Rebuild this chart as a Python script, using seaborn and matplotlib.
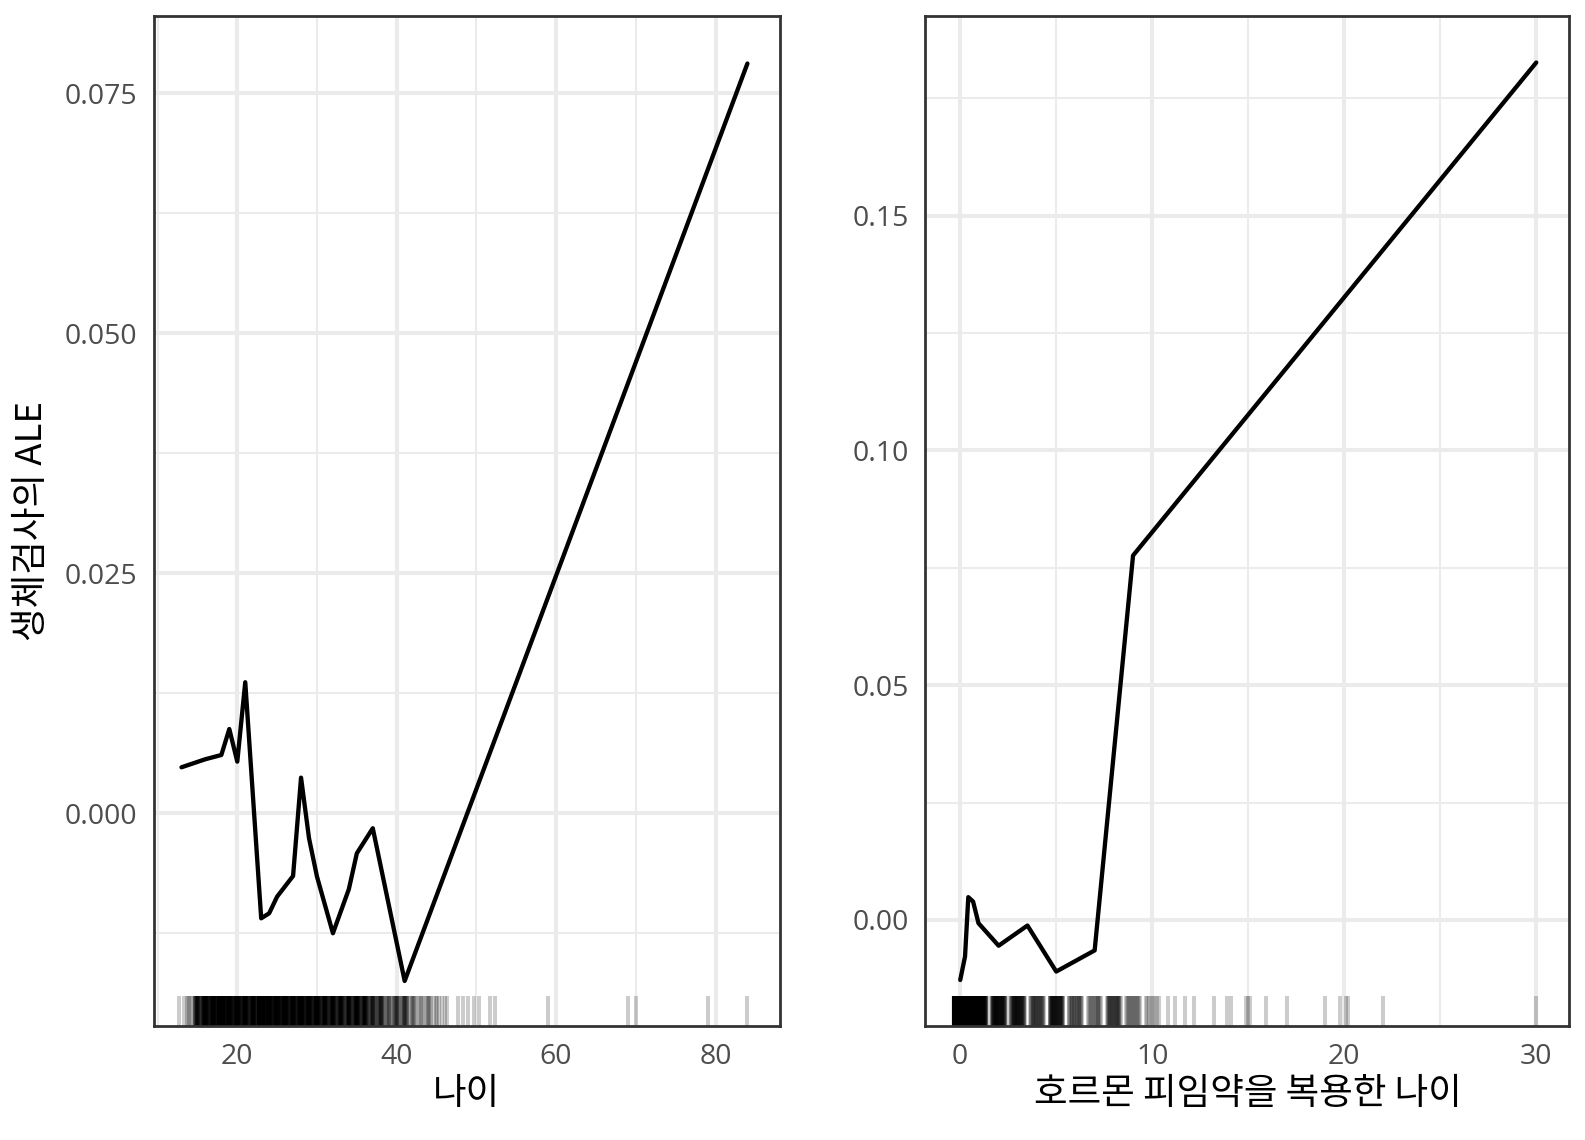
import numpy as np
import matplotlib
matplotlib.use('Agg')
import matplotlib.pyplot as plt
import seaborn as sns

# ALE curve for age (left panel)
age_grid = [13, 16, 18, 19, 20, 21, 23, 24, 25, 27, 28, 29, 30, 32, 34, 35, 37, 41, 84]
age_ale = [0.00479, 0.00563, 0.00607, 0.00878, 0.00538, 0.01365, -0.01094, -0.01042,
           -0.00868, -0.00653, 0.00371, -0.0026, -0.0066, -0.0125, -0.0079, -0.00417,
           -0.00156, -0.01747, 0.0781]

# observed ages for the rug: value and how many women
age_values = list(range(13, 47)) + [48, 49, 50, 52, 59, 69, 70, 79, 84]
age_counts = [2, 5, 21, 35, 35, 50, 37, 37, 33, 30, 54, 39, 39, 38, 33, 37, 33, 35, 28, 28,
              26, 24, 29, 24, 17, 16, 9, 12, 13, 7, 5, 6, 4, 3,
              2, 1, 2, 2, 1, 1, 1, 1, 1]

# ALE curve for years on hormonal contraceptives (right panel)
hc_grid = [0, 0.25, 0.42, 0.67, 0.95, 2, 3.5, 5, 7, 9, 30]
hc_ale = [-0.0128, -0.0078, 0.00484, 0.0039, -0.0007, -0.0055, -0.0012, -0.0110,
          -0.0065, 0.0776, 0.1826]

hc_values = [0, 0.08, 0.17, 0.25, 0.33, 0.42, 0.5, 0.58, 0.67, 0.75, 0.83, 1, 1.5, 2, 2.5,
             3, 4, 5, 6, 7, 8, 9, 10, 10.8, 11.2, 11.7, 12.2, 13.2, 13.9, 14.1, 14.9, 15,
             15.1, 15.9, 17, 19, 19.8, 20.1, 20.2, 22, 30]
hc_counts = [270, 8, 8, 40, 8, 5, 40, 5, 8, 10, 5, 70, 4, 45, 3,
             40, 25, 40, 20, 15, 25, 15, 8, 1, 1, 1, 1, 1, 1, 1, 1, 1,
             1, 1, 1, 1, 1, 1, 1, 1, 1]


def jittered(values, counts, width=0.35):
    # spread repeated values a little, like ggplot's jittered rug
    out = []
    for v, n in zip(values, counts):
        if n > 1:
            out.extend(v + np.linspace(-width, width, n))
        else:
            out.append(v)
    return np.array(out)


sns.set_style('white')
plt.rcParams['font.family'] = ['Noto Sans CJK KR', 'DejaVu Sans']

fig = plt.figure(figsize=(15.85, 11.4), dpi=100)
ax1 = fig.add_axes([0.09685, 0.1, 0.39527, 0.88553])
ax2 = fig.add_axes([0.5839, 0.1, 0.40631, 0.88553])

tick_font = ['Open Sans', 'DejaVu Sans']


def style(ax):
    ax.set_facecolor('white')
    for s in ax.spines.values():
        s.set_visible(True)
        s.set_color('#333333')
        s.set_linewidth(2)
    ax.grid(which='major', color='#EBEBEB', linewidth=2.9)
    ax.grid(which='minor', color='#EBEBEB', linewidth=1.5)
    ax.set_axisbelow(True)
    ax.tick_params(which='major', length=7, width=2, color='#333333',
                   labelsize=20.5, labelcolor='#4D4D4D', pad=5)
    ax.tick_params(which='minor', length=0)
    for lab in ax.get_xticklabels() + ax.get_yticklabels():
        lab.set_family(tick_font)


# left panel
sns.lineplot(x=age_grid, y=age_ale, ax=ax1, color='black', linewidth=3.1)
sns.rugplot(x=jittered(age_values, age_counts), ax=ax1, height=0.03, color='black',
            alpha=0.2, linewidth=2.9, expand_margins=False)
ax1.set_xlim(9.49, 88.09)
ax1.set_ylim(-0.02216, 0.0830)
ax1.set_xticks([20, 40, 60, 80])
ax1.set_xticks([10, 30, 50, 70], minor=True)
ax1.set_yticks([0, 0.025, 0.05, 0.075])
ax1.set_yticklabels(['0.000', '0.025', '0.050', '0.075'])
ax1.set_yticks([-0.0125, 0.0125, 0.0375, 0.0625], minor=True)
style(ax1)
ax1.set_xlabel('나이', fontsize=26.3, color='black', labelpad=4)
ax1.set_ylabel('생체검사의 ALE', fontsize=26.3, color='black', labelpad=10)

# right panel
sns.lineplot(x=hc_grid, y=hc_ale, ax=ax2, color='black', linewidth=3.1)
sns.rugplot(x=jittered(hc_values, hc_counts), ax=ax2, height=0.03, color='black',
            alpha=0.2, linewidth=2.9, expand_margins=False)
ax2.set_xlim(-1.81, 31.73)
ax2.set_ylim(-0.0226, 0.1924)
ax2.set_xticks([0, 10, 20, 30])
ax2.set_xticks([5, 15, 25], minor=True)
ax2.set_yticks([0, 0.05, 0.10, 0.15])
ax2.set_yticklabels(['0.00', '0.05', '0.10', '0.15'])
ax2.set_yticks([0.025, 0.075, 0.125, 0.175], minor=True)
style(ax2)
ax2.set_xlabel('호르몬 피임약을 복용한 나이', fontsize=26.3, color='black', labelpad=4)
ax2.set_ylabel('')

fig.savefig('out.png', dpi=100)
